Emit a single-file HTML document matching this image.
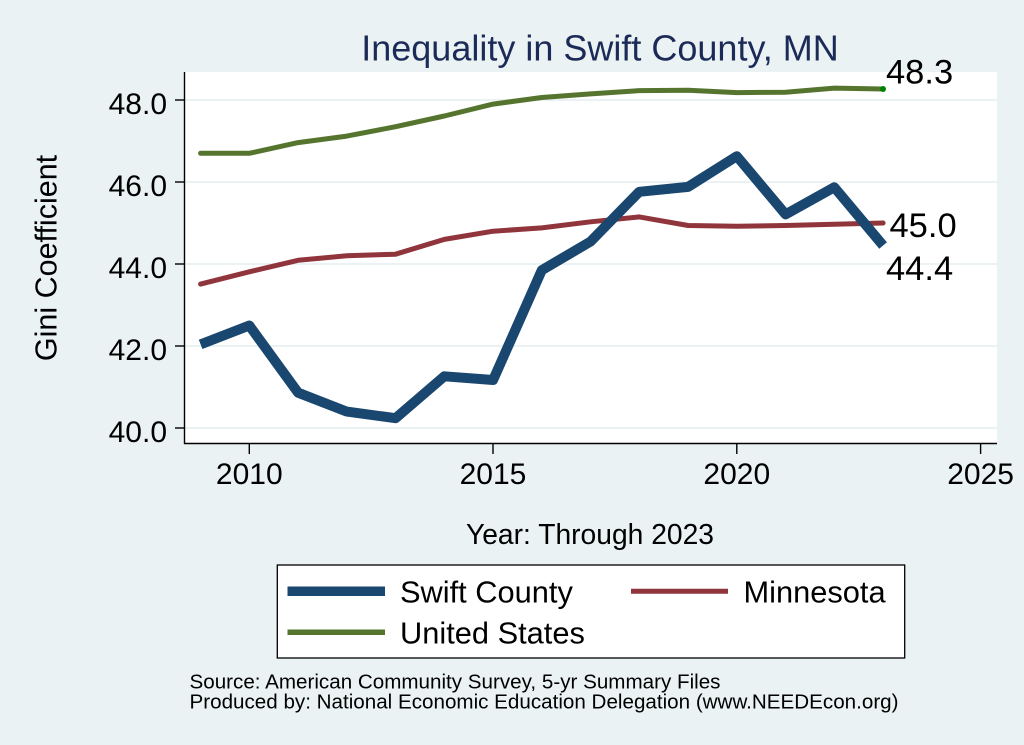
<!DOCTYPE html>
<html>
<head>
<meta charset="utf-8">
<style>
html,body{margin:0;padding:0;background:#eaf2f3;}
svg{display:block;}
text{font-family:"Liberation Sans",Arial,Helvetica,sans-serif;}
</style>
</head>
<body>
<svg width="1024" height="745" viewBox="0 0 1024 745" xmlns="http://www.w3.org/2000/svg">
<rect x="0" y="0" width="1024" height="745" fill="#eaf2f3"/>
<!-- title -->
<text x="600" y="60.5" font-size="36" fill="#1c2a58" text-anchor="middle">Inequality in Swift County, MN</text>
<!-- plot region -->
<rect x="184.5" y="72" width="812.5" height="372" fill="#ffffff"/>
<!-- gridlines -->
<g stroke="#eaf2f3" stroke-width="2">
<line x1="185" y1="100" x2="997" y2="100"/>
<line x1="185" y1="182" x2="997" y2="182"/>
<line x1="185" y1="264" x2="997" y2="264"/>
<line x1="185" y1="346" x2="997" y2="346"/>
<line x1="185" y1="428" x2="997" y2="428"/>
</g>
<!-- axes -->
<g stroke="#000" stroke-width="1.4" fill="none">
<line x1="184.5" y1="72" x2="184.5" y2="444"/>
<line x1="184" y1="443.5" x2="997" y2="443.5"/>
<line x1="175" y1="100" x2="184.5" y2="100"/>
<line x1="175" y1="182" x2="184.5" y2="182"/>
<line x1="175" y1="264" x2="184.5" y2="264"/>
<line x1="175" y1="346" x2="184.5" y2="346"/>
<line x1="175" y1="428" x2="184.5" y2="428"/>
<line x1="249.3" y1="443.5" x2="249.3" y2="454"/>
<line x1="493" y1="443.5" x2="493" y2="454"/>
<line x1="736.8" y1="443.5" x2="736.8" y2="454"/>
<line x1="980.6" y1="443.5" x2="980.6" y2="454"/>
</g>
<!-- y tick labels -->
<g font-size="30" fill="#000" text-anchor="end">
<text x="167" y="114">48.0</text>
<text x="167" y="196">46.0</text>
<text x="167" y="278">44.0</text>
<text x="167" y="360">42.0</text>
<text x="167" y="442">40.0</text>
</g>
<!-- x tick labels -->
<g font-size="30" fill="#000" text-anchor="middle">
<text x="249.3" y="484">2010</text>
<text x="493" y="484">2015</text>
<text x="736.8" y="484">2020</text>
<text x="980.6" y="484">2025</text>
</g>
<!-- axis titles -->
<text x="56.5" y="258" font-size="30.5" fill="#000" text-anchor="middle" transform="rotate(-90 56.5 258)">Gini Coefficient</text>
<text x="466" y="544" font-size="28.3" fill="#000" textLength="248" lengthAdjust="spacingAndGlyphs">Year: Through 2023</text>
<!-- series -->
<g fill="none" stroke-linejoin="round" stroke-linecap="round">
<polyline stroke="#55752f" stroke-width="5" points="200.6,153.3 249.3,153.3 298.1,142.6 346.8,136.1 395.6,126.7 444.3,116.0 493.1,104.1 541.8,97.5 590.6,93.9 639.3,90.6 688.1,90.2 736.8,92.6 785.6,92.2 834.3,88.1 883.1,89.0"/>
<polyline stroke="#90353b" stroke-width="5" points="200.6,284.1 249.3,271.8 298.1,260.3 346.8,255.8 395.6,254.2 444.3,239.4 493.1,231.2 541.8,227.9 590.6,221.8 639.3,216.9 688.1,225.5 736.8,226.3 785.6,225.5 834.3,224.2 883.1,223.0"/>
<polyline stroke="#1a476f" stroke-width="10" stroke-linecap="butt" points="200.6,344.4 249.3,325.5 298.1,392.7 346.8,411.6 395.6,418.2 444.3,376.3 493.1,380.0 541.8,270.2 590.6,241.5 639.3,191.8 688.1,186.9 736.8,156.2 785.6,214.4 834.3,187.3 883.1,245.5"/>
</g>
<circle cx="883" cy="89" r="3" fill="#008000"/>
<!-- end labels -->
<g font-size="34.5" fill="#000">
<text x="886" y="83.5">48.3</text>
<text x="889.5" y="237">45.0</text>
<text x="886" y="280">44.4</text>
</g>
<!-- legend -->
<rect x="277.3" y="565" width="627.4" height="93" fill="#ffffff" stroke="#000" stroke-width="1.3"/>
<line x1="287.5" y1="591.3" x2="385" y2="591.3" stroke="#1a476f" stroke-width="9.5"/>
<line x1="631" y1="591.3" x2="728" y2="591.3" stroke="#90353b" stroke-width="5"/>
<line x1="287.5" y1="632.3" x2="385" y2="632.3" stroke="#55752f" stroke-width="5.5"/>
<g font-size="30.8" fill="#000">
<text x="400" y="602.5">Swift County</text>
<text x="743.5" y="602.5">Minnesota</text>
<text x="400" y="643.5">United States</text>
</g>
<!-- source notes -->
<g font-size="20.5" fill="#000">
<text x="189.5" y="688.3" textLength="531" lengthAdjust="spacingAndGlyphs">Source: American Community Survey, 5-yr Summary Files</text>
<text x="189.5" y="708.3" textLength="709" lengthAdjust="spacingAndGlyphs">Produced by: National Economic Education Delegation (www.NEEDEcon.org)</text>
</g>
</svg>
</body>
</html>
